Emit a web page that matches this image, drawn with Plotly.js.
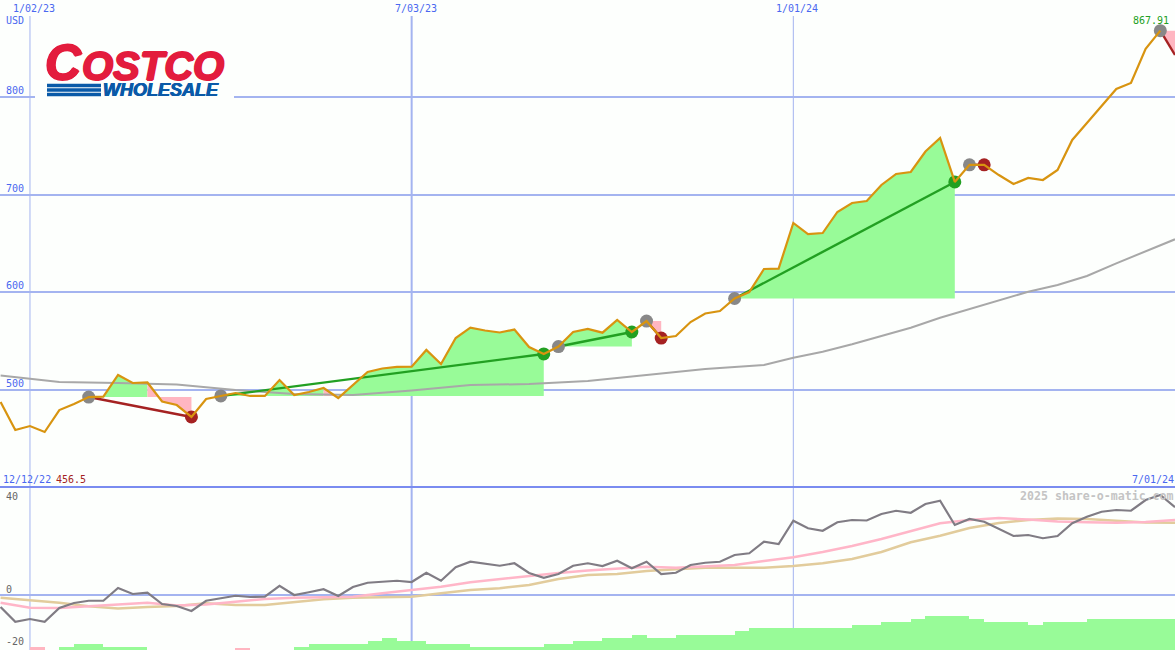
<!DOCTYPE html>
<html>
<head>
<meta charset="utf-8">
<script src="https://cdn.plot.ly/plotly-3.0.1.min.js"></script>
<style>body{margin:0;overflow:hidden;background:#fdfffd}</style>
</head>
<body>
<div id="chart" style="width:1175px;height:650px"></div>
<script>
// weekly closes, last entry (7/01/24) is only the exit of the open trade
var weeks = ['2022-12-19','2022-12-26','2023-01-02','2023-01-09','2023-01-16','2023-01-23','2023-01-30','2023-02-06','2023-02-13','2023-02-20','2023-02-27','2023-03-06','2023-03-13','2023-03-20','2023-03-27','2023-04-03','2023-04-10','2023-04-17','2023-04-24','2023-05-01','2023-05-08','2023-05-15','2023-05-22','2023-05-29','2023-06-05','2023-06-12','2023-06-19','2023-06-26','2023-07-03','2023-07-10','2023-07-17','2023-07-24','2023-07-31','2023-08-07','2023-08-14','2023-08-21','2023-08-28','2023-09-04','2023-09-11','2023-09-18','2023-09-25','2023-10-02','2023-10-09','2023-10-16','2023-10-23','2023-10-30','2023-11-06','2023-11-13','2023-11-20','2023-11-27','2023-12-04','2023-12-11','2023-12-18','2023-12-25','2024-01-01','2024-01-08','2024-01-15','2024-01-22','2024-01-29','2024-02-05','2024-02-12','2024-02-19','2024-02-26','2024-03-04','2024-03-11','2024-03-18','2024-03-25','2024-04-01','2024-04-08','2024-04-15','2024-04-22','2024-04-29','2024-05-06','2024-05-13','2024-05-20','2024-05-27','2024-06-03','2024-06-10','2024-06-17','2024-06-24','2024-07-01'];
var close = [487.7,459.0,463.1,457.0,479.5,485.7,492.8,493.3,515.4,507.2,507.7,488.2,484.6,472.4,490.8,493.9,496.9,493.9,493.9,510.2,494.9,498.0,502.0,491.8,505.1,518.4,522.0,523.6,523.9,541.0,526.6,553.2,563.9,560.9,558.9,561.9,544.0,536.9,544.5,559.4,562.5,558.7,571.7,559.4,570.6,553.2,555.3,569.6,578.3,580.9,593.7,600.3,623.9,624.2,671.0,659.7,660.7,682.3,691.5,693.5,709.9,721.2,723.2,744.2,758.0,713.0,730.6,730.6,720.1,710.9,717.1,715.0,725.3,756.0,773.4,790.8,808.2,814.3,849.2,867.91,843.0];

// long moving average
var smaWeeks = ['2022-12-19','2023-01-16','2023-02-13','2023-03-13','2023-04-10','2023-05-08','2023-06-05','2023-07-03','2023-07-31','2023-08-28','2023-09-25','2023-10-23','2023-11-20','2023-12-18','2024-01-01','2024-01-15','2024-01-29','2024-02-12','2024-02-26','2024-03-11','2024-03-25','2024-04-08','2024-04-22','2024-05-06','2024-05-20','2024-06-03','2024-06-17','2024-07-01'];
var sma = [514.8,508.2,507.2,505.6,500.0,495.9,494.9,499.5,505.1,506.1,509.2,515.4,521.5,525.6,533.1,539.2,546.8,555.3,563.8,574.0,582.9,592.2,600.6,607.5,616.7,629.7,641.6,654.3];

// trades, as indexes into weeks
var tradeEntry = [6,15,38,44,50,66,79];
var tradeExit = [13,37,43,45,65,67,80];
var tradeWon = [false,true,true,false,true,false,false];

// lower panel
var momentum = [-4.8,-10.7,-9.6,-10.7,-5.2,-3.2,-2.3,-2.3,2.8,0.4,0.9,-3.6,-4.4,-6.4,-2.3,-1.2,-0.3,-0.8,-0.7,3.7,0,1.1,2.3,-0.4,3.2,4.9,5.3,5.7,5.2,8.9,5.7,11.1,13.3,12.4,11.7,12.7,8.8,6.9,8.4,11.7,12.7,11.6,13.7,10.7,13.3,8.4,8.9,12.0,12.9,13.3,16.0,16.7,21.3,20.4,29.7,26.7,25.7,29.1,30.0,29.8,32.4,33.7,32.9,36.4,37.7,28.0,30.4,29.3,26.4,23.6,24.0,22.7,23.6,28.7,31.3,33.3,34.0,33.7,38.0,40.0,35.1];
var avgWeeks = ['2022-12-19','2023-01-02','2023-01-16','2023-01-30','2023-02-13','2023-02-27','2023-03-13','2023-03-27','2023-04-10','2023-04-24','2023-05-08','2023-05-22','2023-06-05','2023-06-19','2023-07-03','2023-07-17','2023-07-31','2023-08-14','2023-08-28','2023-09-11','2023-09-25','2023-10-09','2023-10-23','2023-11-06','2023-11-20','2023-12-04','2023-12-18','2024-01-01','2024-01-15','2024-01-29','2024-02-12','2024-02-26','2024-03-11','2024-03-25','2024-04-08','2024-04-22','2024-05-06','2024-05-20','2024-06-03','2024-06-17','2024-07-01'];
var fastAvg = [-3.1,-5.1,-5.2,-4.4,-3.8,-3.1,-4.2,-3.8,-2.7,-1.6,-1.1,-0.8,-0.7,0.7,2.0,3.3,5.1,6.4,7.7,8.8,9.8,10.7,11.3,10.9,11.3,12.0,13.6,15.1,17.2,19.6,22.4,25.6,28.7,30.0,30.8,30.2,29.4,29.1,28.9,29.2,30.0];
var slowAvg = [-1.1,-2.0,-3.1,-4.5,-5.4,-4.8,-4.4,-3.3,-4.0,-4.0,-2.8,-1.7,-1.1,-0.9,-0.7,0.7,2.0,2.7,4.0,6.4,8.0,8.4,9.6,10.3,10.9,10.9,10.9,11.6,12.7,14.4,17.2,21.1,23.7,26.8,28.8,30.0,30.6,30.4,29.6,29.0,28.9];
// bar heights, negative ones are pink
var hist = [0,0,-1.2,0,1.2,2.4,2.4,1.2,1.2,1.2,0,0,0,0,0,0,-1.0,0,0,0,1.2,2.4,2.4,2.4,2.4,3.6,4.8,3.6,3.6,2.4,2.4,2.4,1.3,1.3,1.3,1.3,1.3,2.4,2.4,3.6,3.6,4.8,4.8,6,4.8,4.8,6,6,6,6,7.6,8.8,8.8,8.8,8.8,8.8,8.8,8.8,10,10,11.2,11.2,12.4,13.6,13.6,13.6,12.4,11.2,11.2,11.2,10,11.2,11.2,11.2,12.4,12.4,12.4,12.4,12.4,12.4];

var priceTicks = [500,600,700,800];
var dateTicks = ['2023-01-02','2023-07-03','2024-01-01'];
var dateLabels = ['1/02/23','7/03/23','1/01/24'];
var lineWidths = [1,2,1];

var GREEN = '#98fb98', PINK = '#ffb6c1', BLUE = '#4a68f0', GRID = '#a4b4f0';
var UP = '#22a022', DOWN = '#a52222';
var MONO = '"DejaVu Sans Mono", monospace';

function px(x) { return x / 1175; }
function py(y) { return 1 - y / 650; }

// one polygon per run of weeks on the same side of the entry price
function tradeFills(wanted) {
  var xs = [], ys = [];
  tradeEntry.forEach(function (a, t) {
    var b = tradeExit[t], base = close[a], run = null;
    function flush() {
      if (!run) return;
      var x0 = weeks[run[0]], x1 = weeks[run[1]];
      for (var i = run[0]; i <= run[1]; i++) { xs.push(weeks[i]); ys.push(close[i]); }
      xs.push(x1, x0, x0, null); ys.push(base, base, close[run[0]], null);
      run = null;
    }
    for (var i = a; i < b; i++) {
      var side = close[i + 1] >= base;
      if (side === wanted) {
        if (run) run[1] = i + 1; else run = [i, i + 1];
      } else flush();
    }
    flush();
  });
  return {x: xs, y: ys, mode: 'none', fill: 'toself', fillcolor: wanted ? GREEN : PINK, hoverinfo: 'skip', type: 'scatter'};
}

var traces = [tradeFills(true), tradeFills(false)];

traces.push({x: smaWeeks, y: sma, mode: 'lines', line: {color: '#a8a8a8', width: 2}, type: 'scatter'});

// trade lines
tradeEntry.forEach(function (a, t) {
  var b = tradeExit[t];
  traces.push({x: [weeks[a], weeks[b]], y: [close[a], close[b]], mode: 'lines',
    line: {color: tradeWon[t] ? UP : DOWN, width: 2.4}, type: 'scatter'});
});

traces.push({x: tradeEntry.map(function (i) { return weeks[i]; }), y: tradeEntry.map(function (i) { return close[i]; }),
  mode: 'markers', marker: {color: '#888888', size: 13}, type: 'scatter'});

// the last trade is still open so it has no exit dot
var shownExits = tradeExit.map(function (e, t) { return t; }).filter(function (t) { return tradeExit[t] < weeks.length - 1; });
traces.push({x: shownExits.map(function (t) { return weeks[tradeExit[t]]; }), y: shownExits.map(function (t) { return close[tradeExit[t]]; }),
  mode: 'markers', marker: {color: shownExits.map(function (t) { return tradeWon[t] ? UP : DOWN; }), size: 13}, type: 'scatter'});

traces.push({x: weeks.slice(0, -1), y: close.slice(0, -1), mode: 'lines', line: {color: '#d89410', width: 2.2}, type: 'scatter'});

// lower panel
traces.push({x: weeks.slice(0, hist.length), y: hist.map(Math.abs), base: -22, yaxis: 'y2', type: 'bar',
  width: 7 * 864e5, offset: 0,
  marker: {color: hist.map(function (h) { return h < 0 ? PINK : GREEN; }), line: {width: 0}}});
traces.push({x: avgWeeks, y: slowAvg, yaxis: 'y2', mode: 'lines', line: {color: '#e2cc9c', width: 2.5}, type: 'scatter'});
traces.push({x: avgWeeks, y: fastAvg, yaxis: 'y2', mode: 'lines', line: {color: '#ffb6c8', width: 2.5}, type: 'scatter'});
traces.push({x: weeks, y: momentum, yaxis: 'y2', mode: 'lines', line: {color: '#807c84', width: 2.2}, type: 'scatter'});

function label(text, x, y, color, extra) {
  var a = {text: text, x: px(x), y: py(y), xref: 'paper', yref: 'paper', showarrow: false, xanchor: 'left', yanchor: 'middle', borderpad: 0,
    font: {family: MONO, size: 10, color: color}};
  return Object.assign(a, extra || {});
}

var annotations = [];
dateLabels.forEach(function (t, i) {
  annotations.push({text: t, x: dateTicks[i], xref: 'x', y: py(8), yref: 'paper', xshift: 4, showarrow: false, xanchor: 'center', yanchor: 'middle',
    font: {family: MONO, size: 10, color: BLUE}});
});
priceTicks.forEach(function (v) {
  annotations.push({text: String(v), x: px(5), xref: 'paper', y: v, yref: 'y', showarrow: false, xanchor: 'left', yanchor: 'bottom', borderpad: 0,
    font: {family: MONO, size: 10, color: BLUE}});
});
annotations.push(label('USD', 5, 21, BLUE));
annotations.push(label('867.91', 1132, 21, UP));
annotations.push(label('12/12/22', 2, 479, BLUE));
annotations.push(label('456.5', 55, 479, DOWN));
annotations.push(label('7/01/24', 1131, 479, BLUE));
annotations.push(label('40', 5, 496, '#666666'));
annotations.push(label('0', 5, 589, '#666666'));
annotations.push(label('-20', 5, 641, '#666666'));
annotations.push(label('2025 share-o-matic.com', 1019, 496, '#c4c4c4', {font: {family: MONO, size: 11.6, color: '#c4c4c4', weight: 'bold'}}));

// logo, the shadow only fattens the letters
var LOGO = '"Liberation Sans", Arial, sans-serif';
var RED_FAT = '1px 0 0 #e31c3d, -1px 0 0 #e31c3d, 0 1px 0 #e31c3d, 0 -1px 0 #e31c3d';
var BLUE_FAT = '0.5px 0 0 #0a5aa8, -0.5px 0 0 #0a5aa8';
annotations.push(label('C', 44, 63, '#e31c3d', {font: {family: LOGO, size: 50, color: '#e31c3d', weight: 'bold', style: 'italic', shadow: RED_FAT}}));
annotations.push(label('OSTCO', 81, 66, '#e31c3d', {font: {family: LOGO, size: 40, color: '#e31c3d', weight: 'bold', style: 'italic', shadow: RED_FAT}}));
annotations.push(label('WHOLESALE', 102, 90, '#0a5aa8', {font: {family: LOGO, size: 18, color: '#0a5aa8', weight: 'bold', style: 'italic', shadow: BLUE_FAT}}));

var shapes = dateTicks.map(function (d, i) {
  return {type: 'line', layer: 'below', xref: 'x', yref: 'paper', x0: d, x1: d, y0: 0, y1: py(16),
    line: {color: GRID, width: lineWidths[i]}};
});
// panel divider
shapes.push({type: 'line', layer: 'above', xref: 'paper', yref: 'paper', x0: 0, x1: 1, y0: py(487), y1: py(487), line: {color: '#7a8cf0', width: 2}});
// logo backing and stripes
shapes.push({type: 'rect', layer: 'above', xref: 'paper', yref: 'paper', x0: px(35), x1: px(234), y0: py(100), y1: py(40), fillcolor: '#fdfffd', line: {width: 0}});
[85.5, 90, 94.5].forEach(function (y) {
  shapes.push({type: 'rect', layer: 'above', xref: 'paper', yref: 'paper', x0: px(47), x1: px(101), y0: py(y + 1.8), y1: py(y - 1.8), fillcolor: '#0a5aa8', line: {width: 0}});
});

var layout = {
  width: 1175, height: 650,
  margin: {l: 0, r: 0, t: 0, b: 0},
  showlegend: false,
  hovermode: false,
  bargap: 0,
  paper_bgcolor: '#fdfffd',
  plot_bgcolor: '#fdfffd',
  xaxis: {type: 'date', range: ['2022-12-18 17:00', '2024-07-01'], showgrid: false, zeroline: false, showticklabels: false, ticks: ''},
  yaxis: {domain: [py(487), 1], range: [400.7, 899.3], tickvals: priceTicks, showticklabels: false, ticks: '', zeroline: false, gridcolor: GRID, gridwidth: 2},
  yaxis2: {domain: [0, py(488)], range: [-22, 42.8], tickvals: [0], showticklabels: false, ticks: '', zeroline: false, gridcolor: GRID, gridwidth: 2},
  annotations: annotations,
  shapes: shapes
};

Plotly.newPlot('chart', traces, layout, {displayModeBar: false, staticPlot: true});
</script>
</body>
</html>
